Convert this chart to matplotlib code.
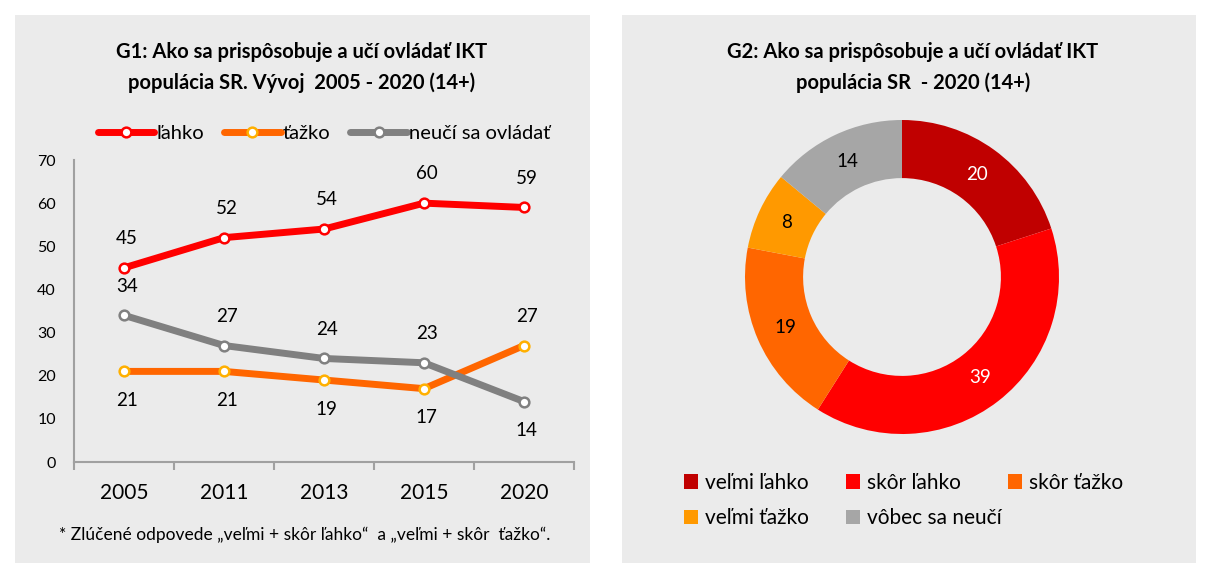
import numpy as np
import matplotlib.pyplot as plt
from matplotlib.patches import FancyBboxPatch, Patch

plt.rcParams['font.family'] = ['Lato', 'DejaVu Sans']

# data G1
years = ['2005', '2011', '2013', '2015', '2020']
lahko = [45, 52, 54, 60, 59]
tazko = [21, 21, 19, 17, 27]
neuci = [34, 27, 24, 23, 14]
series_names = ['ľahko', 'ťažko', 'neučí sa ovládať']

# data G2
donut_labels = ['veľmi ľahko', 'skôr ľahko', 'skôr ťažko', 'veľmi ťažko', 'vôbec sa neučí']
donut_values = [20, 39, 19, 8, 14]

W, H = 1207, 574
fig = plt.figure(figsize=(W / 100, H / 100), dpi=100)
fig.patch.set_facecolor('white')

bg = '#EBEBEB'
for x0, x1 in [(15, 590), (622, 1196)]:
    fig.patches.append(FancyBboxPatch((x0 / W, 1 - 563 / H), (x1 - x0) / W, 548 / H,
                                      boxstyle='square,pad=0', transform=fig.transFigure,
                                      facecolor=bg, edgecolor='none', zorder=-5))

# ---- G1 line chart ----
ax = fig.add_axes([74 / W, 1 - 462 / H, 500 / W, 302 / H])
ax.set_facecolor('none')
x = np.arange(len(years))
colors = ['#FF0000', '#FF6600', '#808080']
edges = ['#FF0000', '#FFB000', '#808080']
data = [lahko, tazko, neuci]
# +1 label above, -1 below
label_dir = [[1, 1, 1, 1, 1], [-1, -1, -1, -1, 1], [1, 1, 1, 1, -1]]
handles = []
for vals, c, ec, name, dirs in zip(data, colors, edges, series_names, label_dir):
    ln, = ax.plot(x, vals, color=c, lw=5, marker='o', ms=7, mfc='white', mec=ec,
                  mew=1.8, solid_capstyle='round', label=name, zorder=3)
    handles.append(ln)
    for xi, v, d in zip(x, vals, dirs):
        ax.annotate(str(v), (xi, v), xytext=(2, 21 * d), textcoords='offset points',
                    ha='center', va='center', fontsize=13.5, color='black')

ax.set_xlim(-0.5, len(years) - 0.5)
ax.set_ylim(0, 70)
ax.set_yticks(range(0, 71, 10))
ax.set_xticks(x)
ax.set_xticklabels(years, fontsize=15)
ax.set_xticks(np.arange(-0.5, len(years), 1), minor=True)
ax.tick_params(axis='x', which='major', length=0, pad=15)
ax.tick_params(axis='x', which='minor', length=6, width=1.5, color='#A0A0A0')
ax.tick_params(axis='y', length=0, pad=13, labelsize=11.5)
for s in ['top', 'right']:
    ax.spines[s].set_visible(False)
for s in ['left', 'bottom']:
    ax.spines[s].set_color('#A0A0A0')
    ax.spines[s].set_linewidth(1.5)

fig.legend(handles=handles, loc='center', bbox_to_anchor=(324 / W, 1 - 133 / H), ncol=3,
           frameon=False, fontsize=14.5, handlelength=2.8, handletextpad=0.1,
           columnspacing=1.0)

fig.text(302 / W, 1 - 52 / H, 'G1: Ako sa prispôsobuje a učí ovládať IKT', ha='center',
         va='center', fontsize=14.5, fontweight='bold')
fig.text(302 / W, 1 - 83 / H, 'populácia SR. Vývoj  2005 - 2020 (14+)', ha='center',
         va='center', fontsize=14.5, fontweight='bold')
fig.text(305 / W, 1 - 535 / H, '* Zlúčené odpovede „veľmi + skôr ľahko“  a „veľmi + skôr  ťažko“.',
         ha='center', va='center', fontsize=12.5)

# ---- G2 donut ----
cx, cy, r = 902, 277, 157
ax2 = fig.add_axes([(cx - r) / W, 1 - (cy + r) / H, 2 * r / W, 2 * r / H])
dcolors = ['#C00000', '#FF0000', '#FF6600', '#FF9900', '#A6A6A6']
wedges, _ = ax2.pie(donut_values, colors=dcolors, startangle=90, counterclock=False,
                    radius=1, wedgeprops=dict(width=0.37, edgecolor='none'))
tcolors = ['white', 'white', 'black', 'black', 'black']
for w, v, tc in zip(wedges, donut_values, tcolors):
    ang = np.deg2rad((w.theta1 + w.theta2) / 2)
    ax2.text(0.81 * np.cos(ang), 0.81 * np.sin(ang), str(v), ha='center', va='center',
             fontsize=13.5, color=tc)
ax2.set_xlim(-1, 1)
ax2.set_ylim(-1, 1)

# legend: three fixed-width columns, filled row by row
ncols = 3
col_x = [669, 831, 993]
for c in range(ncols):
    idx = list(range(c, len(donut_labels), ncols))
    sq = [Patch(facecolor=dcolors[i], label=donut_labels[i]) for i in idx]
    leg = fig.legend(handles=sq, loc='upper left', bbox_to_anchor=(col_x[c] / W, 1 - 458 / H),
                     frameon=False, fontsize=15, handlelength=0.7, handleheight=0.7,
                     handletextpad=0.35, labelspacing=0.75, borderpad=0.2)

fig.text(913 / W, 1 - 52 / H, 'G2: Ako sa prispôsobuje a učí ovládať IKT', ha='center',
         va='center', fontsize=14.5, fontweight='bold')
fig.text(913 / W, 1 - 83 / H, 'populácia SR  - 2020 (14+)', ha='center',
         va='center', fontsize=14.5, fontweight='bold')

fig.savefig('out.png', dpi=100, facecolor='white')
